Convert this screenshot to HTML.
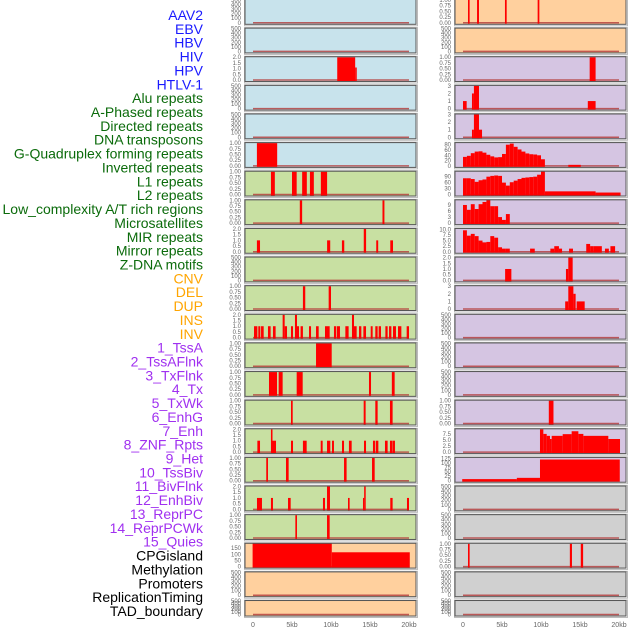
<!DOCTYPE html>
<html><head><meta charset="utf-8">
<style>
html,body{margin:0;padding:0;background:#fff;}
svg{display:block;}
</style></head>
<body>
<svg id="chart" width="630" height="630" viewBox="0 0 630 630" xmlns="http://www.w3.org/2000/svg" font-family="Liberation Sans, sans-serif"></svg>
<script>
const labelNames = ["AAV2","EBV","HBV","HIV","HPV","HTLV-1","Alu repeats","A-Phased repeats","Directed repeats","DNA transposons","G-Quadruplex forming repeats","Inverted repeats","L1 repeats","L2 repeats","Low_complexity A/T rich regions","Microsatellites","MIR repeats","Mirror repeats","Z-DNA motifs","CNV","DEL","DUP","INS","INV","1_TssA","2_TssAFlnk","3_TxFlnk","4_Tx","5_TxWk","6_EnhG","7_Enh","8_ZNF_Rpts","9_Het","10_TssBiv","11_BivFlnk","12_EnhBiv","13_ReprPC","14_ReprPCWk","15_Quies","CPGisland","Methylation","Promoters","ReplicationTiming","TAD_boundary"];
const labelColors = ["#1a1aff","#1a1aff","#1a1aff","#1a1aff","#1a1aff","#1a1aff",
"#0b6b0b","#0b6b0b","#0b6b0b","#0b6b0b","#0b6b0b","#0b6b0b","#0b6b0b","#0b6b0b","#0b6b0b","#0b6b0b","#0b6b0b","#0b6b0b","#0b6b0b",
"#ffa500","#ffa500","#ffa500","#ffa500","#ffa500",
"#a030f0","#a030f0","#a030f0","#a030f0","#a030f0","#a030f0","#a030f0","#a030f0","#a030f0","#a030f0","#a030f0","#a030f0","#a030f0","#a030f0","#a030f0",
"#000","#000","#000","#000","#000"];
const xTickKb = [0,5,10,15,20];
const xTickLabels = ["0","5kb","10kb","15kb","20kb"];

const ticksE = ["0","100","200","300","400","500"];
const ticksU1 = ["0.00","0.25","0.50","0.75","1.00"];
const ticksU2 = ["0.0","0.5","1.0","1.5","2.0"];
const ticksU3 = ["0","1","2","3"];

const profileTssAFlnkA = [34,38,48,54,55,50,42,36,32,33,45,80,84,72,62,54,47,44,43,40,25];
const profileTxFlnk = [82,82,78,64,72,76,90,94,96,94,60,45,62,70,78,84,86,88,90,100,116];
const profileTx = [9,6.6,9.4,7,9.4,10.5,11.5,8.4,8.4,3,1.6,4.5];
const profileTxWk = [9.6,7.2,8,7,5,4.2,4.4,7,6.3,2,1.4,1.4];

const leftBg = ["#c8e3ec","#c8e3ec","#c8e3ec","#c8e3ec","#c8e3ec","#c8e3ec","#c8e0a2","#c8e0a2","#c8e0a2","#c8e0a2","#c8e0a2","#c8e0a2","#c8e0a2","#c8e0a2","#c8e0a2","#c8e0a2","#c8e0a2","#c8e0a2","#c8e0a2","#ffd09e","#ffd09e","#ffd09e"];
const rightBg = ["#ffd09e","#ffd09e","#d5c5e2","#d5c5e2","#d5c5e2","#d5c5e2","#d5c5e2","#d5c5e2","#d5c5e2","#d5c5e2","#d5c5e2","#d5c5e2","#d5c5e2","#d5c5e2","#d5c5e2","#d5c5e2","#d5c5e2","#d0d0d0","#d0d0d0","#d0d0d0","#d0d0d0","#d0d0d0"];

const trackTicks = [
 ticksE,ticksE,ticksU2,ticksE,ticksE,ticksU1,ticksU1,ticksU1,ticksU2,ticksE,ticksU1,ticksU2,ticksU1,ticksU1,ticksU1,ticksU2,ticksU1,ticksU2,ticksU1,["0","50","100","150"],ticksE,ticksE,
 ticksU1,ticksE,ticksU1,ticksU3,ticksU3,["0","20","40","60","80"],["0","30","60","90"],["0","3","6","9"],["0.0","2.5","5.0","7.5","10.0"],ticksU2,ticksU3,ticksE,ticksE,ticksE,ticksU1,["0.0","2.5","5.0","7.5"],["0","25","50","75","100","125"],ticksE,ticksE,ticksU1,ticksE,ticksE];
const trackYMax = [500,500,2,500,500,1,1,1,2,500,1,2,1,1,1,2,1,2,1,185,500,500,
 1,500,1,3,3,86,115,11.3,10.2,2,3,500,500,500,1,9.4,127,500,500,1,500,500];

const trackSegs = [
 [],[],
 [[10.8,13.1,2],[13.1,13.3,1.1]],
 [],[],
 [[0.5,3.1,1]],
 [[2.3,2.8,1],[5.0,5.6,1],[6.3,6.9,1],[7.3,7.8,1],[8.7,9.5,1]],
 [[6.0,6.3,1],[16.6,16.85,1]],
 [[0.5,0.9,1],[9.5,9.9,1],[11.4,11.7,1],[14.2,14.5,2],[15.8,16.05,1],[17.6,17.95,1]],
 [],
 [[6.4,6.7,1],[9.7,10.0,1]],
 [[0.13,0.56,1],[0.68,0.94,1],[1.03,1.37,1],[1.92,2.26,1],[2.56,2.9,1],[3.8,4.06,2],[4.06,4.36,1],[4.87,5.13,1],[5.38,5.64,2],[5.64,5.9,1],[6.1,6.4,1],[7.18,7.44,1],[8.08,8.42,1],[9.23,9.83,1],[10.38,10.68,1],[10.77,11.15,1],[11.84,12.26,1],[12.69,12.95,2],[12.95,13.29,1],[13.59,13.89,1],[14.15,14.49,1],[15.09,15.34,1],[15.68,15.98,1],[16.11,16.41,1],[16.97,17.26,1],[17.44,17.74,1],[17.95,18.33,1],[18.59,19.02,1],[19.7,20.0,1]],
 [[8.08,10.09,1]],
 [[2.05,3.08,1],[3.29,3.8,1],[5.6,6.37,1],[14.87,15.13,1],[17.8,18.16,1]],
 [[4.87,5.09,1],[14.19,14.44,1],[15.68,15.98,1],[17.56,17.9,1]],
 [[0.56,0.9,1],[2.3,2.5,2],[2.5,2.95,1],[4.87,5.13,1],[6.4,6.88,1],[8.68,8.93,1],[9.49,9.91,1],[10.13,10.38,1],[11.41,11.67,1],[12.3,12.65,1],[14.23,14.49,1],[15.38,15.64,1],[15.73,16.07,1],[16.92,17.26,1],[17.56,17.86,1],[17.9,18.2,1]],
 [[1.7,1.92,1],[4.23,4.57,1],[11.67,12.0,1],[15.26,15.6,1]],
 [[0.51,1.15,1],[2.3,2.56,1],[4.49,4.83,1],[8.97,9.23,1],[9.49,9.87,2],[12.18,12.39,1],[14.1,14.25,1],[14.25,14.45,2],[17.6,17.9,1],[19.74,20.0,1]],
 [[5.43,5.64,1],[9.49,9.83,1]],
 [[-0.05,10.1,190],[10.1,20.1,116]],
 [],[],
 [[0.64,0.85,1],[1.8,2.05,1],[5.38,5.6,1],[9.57,9.79,1]],
 [],
 [[16.24,17.0,1]],
 [[0,0.47,1],[1.15,1.4,2],[1.4,2.05,3],[16.0,17.0,1]],
 [[1.15,1.4,1],[1.4,2.05,3],[2.05,2.44,1]],
 [[13.5,15.1,4]],
 [[10.5,17,16],[17,20.2,10]],
 [],
 [[8.6,9.2,1.4],[11.2,11.7,1.4],[11.7,12.3,2.5],[12.3,12.7,1.4],[13.6,14.1,1.4],[15.8,16.3,3.5],[16.3,16.7,2.5],[16.7,17.8,2.5],[18.2,18.7,1.4],[18.9,19.5,2.5]],
 [[5.4,6.2,1],[13.2,13.5,1],[13.5,14.06,2]],
 [[13.1,13.5,1],[13.5,14.15,3],[14.15,14.44,2],[14.57,15.6,1]],
 [],[],[],
 [[11.0,11.6,1]],
 [[9.87,10.3,9.4],[10.3,10.73,7.5],[10.73,11.15,6.7],[11.15,11.37,5.4],[11.37,12.78,6.7],[12.78,13.93,7.4],[13.93,14.79,8.6],[14.79,15.43,7.5],[15.43,18.63,6.7],[18.63,20.13,5.4]],
 [[-0.1,6.9,9],[6.9,9.87,16],[9.87,20.1,118]],
 [],[],
 [[0.64,0.85,1],[13.7,13.97,1],[15.1,15.4,1]],
 [],[]
];
const trackProfiles = {27: profileTssAFlnkA, 28: profileTxFlnk, 29: profileTx, 30: profileTxWk};
const profileBinKb = 0.5;

const NS = "http://www.w3.org/2000/svg";
const svg = document.getElementById("chart");
function mk(tag, attrs, parent){
  const e = document.createElementNS(NS, tag);
  for (const k in attrs) e.setAttribute(k, attrs[k]);
  (parent||svg).appendChild(e);
  return e;
}
// labels
labelNames.forEach((n,i)=>{
  const t = mk("text",{x:203,y:15+i*13.86+5,"text-anchor":"end","font-size":"14",fill:labelColors[i]});
  t.textContent = n;
  
  
});
const colX = [245,455], panelW = 171, pitch = 28.62;
function xScale(col, kb){ return colX[col] + 8 + kb*7.8; }

for (let idx=0; idx<44; idx++){
  const col = idx < 22 ? 0 : 1, row = idx % 22;
  const top = -0.5 + row*pitch;
  const h = row === 21 ? 15.5 : 24.8;
  const bg = col === 0 ? leftBg[row] : rightBg[row];
  const g = mk("g",{});
  
  
  const x0 = colX[col];
  mk("rect",{x:x0-0.5,y:top-0.5,width:panelW+2,height:h+2,fill:"none",stroke:"#bbb","stroke-width":1},g);
  mk("rect",{x:x0,y:top,width:panelW,height:h,fill:bg},g);
  const y0 = top + h - 1.5, y1 = top + 0.5;
  const ymax = trackYMax[idx];
  const yScale = v => y0 - (v/ymax)*(y0-y1);
  const cp = "clip"+idx;
  const cpEl = mk("clipPath",{id:cp},g);
  mk("rect",{x:x0,y:top,width:panelW,height:h},cpEl);
  const bars = mk("g",{"clip-path":"url(#"+cp+")"},g);
  mk("line",{x1:xScale(col,0),x2:xScale(col,20),y1:y0,y2:y0,stroke:"#b33a3a","stroke-width":1.5,"stroke-opacity":0.8},bars);
  const segs = trackSegs[idx].slice();
  if (trackProfiles[idx]) trackProfiles[idx].forEach((v,b)=>segs.push([b*profileBinKb, (b+1)*profileBinKb, v]));
  segs.forEach(s=>{
    const xa = xScale(col,s[0]), xb = xScale(col,s[1]), yt = yScale(s[2]);
    const r = mk("rect",{x:xa,y:yt,width:Math.max(xb-xa,1.2),height:y0+1-yt,fill:"#ff0000"},bars);
    
    
  });
  mk("rect",{x:x0,y:top,width:panelW,height:h,fill:"none",stroke:"#555","stroke-width":1},g);
  // y ticks
  const ticks = trackTicks[idx];
  ticks.forEach(tl=>{
    const v = parseFloat(tl);
    const ty = yScale(v);
    const t = mk("text",{x:x0-4,y:ty+2,"text-anchor":"end","font-size":"6",fill:"#666"},g);
    t.textContent = tl;
    
    
  });
}
// x axes
for (let col=0; col<2; col++){
  xTickKb.forEach((k,i)=>{
    const t = mk("text",{x:xScale(col,k),y:627,"text-anchor":"middle","font-size":"7",fill:"#666"});
    t.textContent = xTickLabels[i];
    
    
  });
}
</script>
</body></html>
